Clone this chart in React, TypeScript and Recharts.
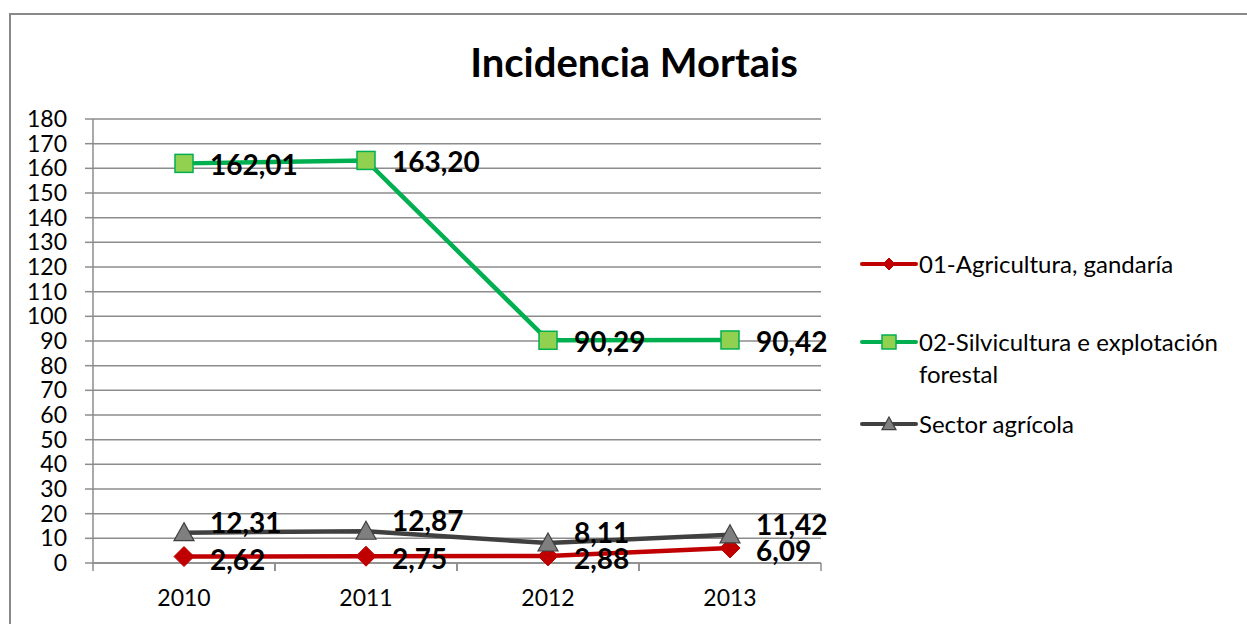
import React from "react";
import { LineChart, Line, XAxis, YAxis, CartesianGrid, LabelList } from "recharts";

const years = ["2010", "2011", "2012", "2013"];
const agricultura = [2.62, 2.75, 2.88, 6.09];
const silvicultura = [162.01, 163.2, 90.29, 90.42];
const sector = [12.31, 12.87, 8.11, 11.42];
const yTicks = [0, 10, 20, 30, 40, 50, 60, 70, 80, 90, 100, 110, 120, 130, 140, 150, 160, 170, 180];

const seriesNames = {
  agri: "01-Agricultura, gandaría",
  silv: "02-Silvicultura e explotación forestal",
  sect: "Sector agrícola",
};

const data = years.map((y, i) => ({
  year: y,
  agri: agricultura[i],
  silv: silvicultura[i],
  sect: sector[i],
}));

const FONT = "Lato, 'Open Sans', sans-serif";
const RED = "#C00000";
const GREEN = "#00B050";
const GREEN_FILL = "#92D050";
const GRAY = "#404040";
const GRAY_FILL = "#7F7F7F";
const GRID = "#8C8C8C";

const fmt = (v: number) => v.toFixed(2).replace(".", ",");

const Diamond = (p: any) => {
  const { cx, cy, r = 10 } = p;
  if (cx == null || cy == null) return null;
  return <path d={`M${cx},${cy - r} L${cx + r},${cy} L${cx},${cy + r} L${cx - r},${cy} Z`} fill={RED} stroke={RED} strokeWidth={1} />;
};
const Square = (p: any) => {
  const { cx, cy, r = 9 } = p;
  if (cx == null || cy == null) return null;
  return <rect x={cx - r} y={cy - r} width={2 * r} height={2 * r} fill={GREEN_FILL} stroke={GREEN} strokeWidth={1.5} />;
};
const Tri = (p: any) => {
  const { cx, cy, r = 10 } = p;
  if (cx == null || cy == null) return null;
  return <path d={`M${cx},${cy - r} L${cx + r},${cy + r * 0.8} L${cx - r},${cy + r * 0.8} Z`} fill={GRAY_FILL} stroke={GRAY} strokeWidth={1.2} />;
};

const makeLabel = (dy: number) => (props: any) => {
  const { x, y, value } = props;
  if (x == null || y == null) return null;
  return (
    <text x={x + 26} y={y + dy} dominantBaseline="central" fontFamily={FONT} fontWeight={700} fontSize={28} fill="#000">
      {fmt(Number(value))}
    </text>
  );
};

const XTick = (props: any) => {
  const { x, y, payload } = props;
  const half = payload && payload.offset ? payload.offset : 0;
  return (
    <g>
      <line x1={x - half} x2={x - half} y1={y} y2={y + 8} stroke={GRID} strokeWidth={1.5} />
      <line x1={x + half} x2={x + half} y1={y} y2={y + 8} stroke={GRID} strokeWidth={1.5} />
      <text x={x} y={y + 34} textAnchor="middle" dominantBaseline="central" fontFamily={FONT} fontSize={23} fill="#000">
        {payload.value}
      </text>
    </g>
  );
};

const legendItems = [
  { key: "agri", color: RED, lines: ["01-Agricultura, gandaría"], marker: "d", height: 78 },
  { key: "silv", color: GREEN, lines: ["02-Silvicultura e explotación", "forestal"], marker: "s", height: 82 },
  { key: "sect", color: GRAY, lines: ["Sector agrícola"], marker: "t", height: 40 },
];

const LegendBox = () => (
  <div style={{ position: "absolute", left: 860, top: 254, width: 387, fontFamily: FONT, fontSize: 24, color: "#000" }}>
    {legendItems.map((it) => (
      <div key={it.key} style={{ height: it.height, position: "relative" }}>
        <svg width={58} height={20} style={{ position: "absolute", left: 0, top: 0 }}>
          <line x1={2} x2={56} y1={10} y2={10} stroke={it.color} strokeWidth={4} strokeLinecap="round" />
          {it.marker === "d" && <Diamond cx={29} cy={10} r={6} />}
          {it.marker === "s" && <Square cx={29} cy={10} r={7} />}
          {it.marker === "t" && <Tri cx={29} cy={10} r={7} />}
        </svg>
        <div style={{ position: "absolute", left: 59, top: -6, lineHeight: "32px", whiteSpace: "nowrap" }}>
          {it.lines.map((l) => (
            <div key={l}>{l}</div>
          ))}
        </div>
      </div>
    ))}
  </div>
);

export default function App() {
  return (
    <div style={{ position: "absolute", left: 0, top: 0, width: 1247, height: 624, overflow: "hidden", background: "#fff" }}>
      <div
        style={{
          position: "absolute",
          left: 9,
          top: 13,
          width: 1238,
          height: 611,
          borderTop: "2px solid #898989",
          borderLeft: "2px solid #898989",
          boxSizing: "border-box",
        }}
      />
      <div style={{ position: "absolute", left: 8, top: 38, width: 1252, textAlign: "center", fontFamily: FONT, fontWeight: 700, fontSize: 40, color: "#000", lineHeight: "48px" }}>
        Incidencia Mortais
      </div>
      <div style={{ position: "absolute", left: 8, top: 8 }}>
        <LineChart width={1239} height={608} data={data} margin={{ top: 111, right: 426, bottom: 23, left: 0 }}>
          <CartesianGrid vertical={false} stroke={GRID} strokeWidth={1.5} />
          <XAxis
            dataKey="year"
            scale="band"
            height={30}
            axisLine={{ stroke: GRID, strokeWidth: 1.5 }}
            tickLine={false}
            tickSize={0}
            tickMargin={0}
            tick={<XTick />}
            interval={0}
          />
          <YAxis
            width={85}
            domain={[0, 180]}
            ticks={yTicks}
            interval={0}
            axisLine={{ stroke: GRID, strokeWidth: 1.5 }}
            tickLine={{ stroke: GRID, strokeWidth: 1.5 }}
            tickSize={8}
            tickMargin={18}
            tick={{ fontFamily: FONT, fontSize: 23, fill: "#000" }}
          />
          <Line name={seriesNames.agri} dataKey="agri" stroke={RED} strokeWidth={4.5} dot={<Diamond r={10} />} isAnimationActive={false}>
            <LabelList dataKey="agri" content={makeLabel(2)} />
          </Line>
          <Line name={seriesNames.silv} dataKey="silv" stroke={GREEN} strokeWidth={4.5} dot={<Square r={9} />} isAnimationActive={false}>
            <LabelList dataKey="silv" content={makeLabel(1)} />
          </Line>
          <Line name={seriesNames.sect} dataKey="sect" stroke={GRAY} strokeWidth={4.5} dot={<Tri r={10} />} isAnimationActive={false}>
            <LabelList dataKey="sect" content={makeLabel(-11)} />
          </Line>
        </LineChart>
      </div>
      <LegendBox />
    </div>
  );
}
